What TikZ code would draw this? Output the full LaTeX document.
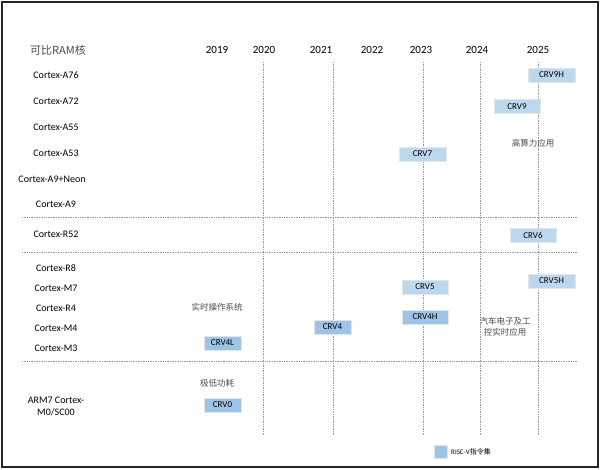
\documentclass[tikz,border=0pt]{standalone}
\usepackage{fontspec}
\setmainfont{Carlito}
\newfontfamily\cjk{Noto Sans CJK SC}
\definecolor{lb}{HTML}{BDD7EE}
\definecolor{db}{HTML}{9DC3E6}
\begin{document}
\begin{tikzpicture}[x=1pt,y=-1pt,
  grid/.style={gray!80,densely dotted,line width=0.7pt},
  lab/.style={font=\fontsize{10}{12}\selectfont,align=center},
  yr/.style={font=\fontsize{11}{13}\selectfont},
  note/.style={font=\cjk\fontsize{8.5}{11}\selectfont,text=black!70,align=center},
  bx/.style={draw=black!10,fill=lb,minimum height=14pt,inner sep=0pt,font=\fontsize{9}{11}\selectfont},
  dbx/.style={bx,fill=db}]
\useasboundingbox (0,0) rectangle (601,470);
\draw[line width=1.5pt,black!85] (2,2) rectangle (598,467);
\foreach \x in {263,333,423,480,538} \draw[grid] (\x,62) -- (\x,435);
\foreach \y in {217,252,361} \draw[grid] (22,\y) -- (577,\y);
\node[font=\cjk\fontsize{11}{13}\selectfont,text=black!70] (t) at (58,50) {可比RAM核};
\foreach \n/\x in {2019/217,2020/264,2021/321,2022/372,2023/421,2024/477,2025/538}
  \node[yr] (y\n) at (\x,50) {\n};
\foreach \n/\t/\y in {a/Cortex-A76/75,b/Cortex-A72/101,c/Cortex-A55/127,d/Cortex-A53/153,f/Cortex-A9/204,g/Cortex-R52/234,h/Cortex-R8/268,i/Cortex-M7/288,j/Cortex-R4/308,k/Cortex-M4/328,l/Cortex-M3/348}
  \node[lab] (r\n) at (56,\y) {\t};
\node[lab] (re) at (52,179) {Cortex-A9+Neon};
\node[lab] (rm) at (56,406) {ARM7 Cortex-\\M0/SC00};
\node[bx,minimum width=47pt] (c9h) at (551.5,75) {CRV9H};
\node[bx,minimum width=46pt] (c9) at (517,106.5) {CRV9};
\node[bx,minimum width=47pt] (c7) at (422.5,154) {CRV7};
\node[bx,minimum width=46pt] (c6) at (533,235.5) {CRV6};
\node[bx,minimum width=46pt] (c5) at (425,287) {CRV5};
\node[bx,minimum width=47pt] (c5h) at (551.5,281) {CRV5H};
\node[dbx,minimum width=46pt] (c4h) at (425,317) {CRV4H};
\node[dbx,minimum width=37pt] (c4) at (332.5,327) {CRV4};
\node[dbx,minimum width=37pt] (c4l) at (222.5,343) {CRV4L};
\node[dbx,minimum width=37pt] (c0) at (222.5,405) {CRV0};
\node[note] (n1) at (533,143) {高算力应用};
\node[note] (n2) at (217,307) {实时操作系统};
\node[note] (n3) at (505,327) {汽车电子及工\\控实时应用};
\node[note] (n4) at (217,383) {极低功耗};
\node[dbx,minimum width=13pt,minimum height=13pt] (lg) at (440.5,451.5) {};
\node[anchor=west,inner sep=0pt,font=\fontsize{7}{9}\selectfont] (lt) at (451,451.5) {RISC-V{\cjk 指令集}};
\end{tikzpicture}
\end{document}
